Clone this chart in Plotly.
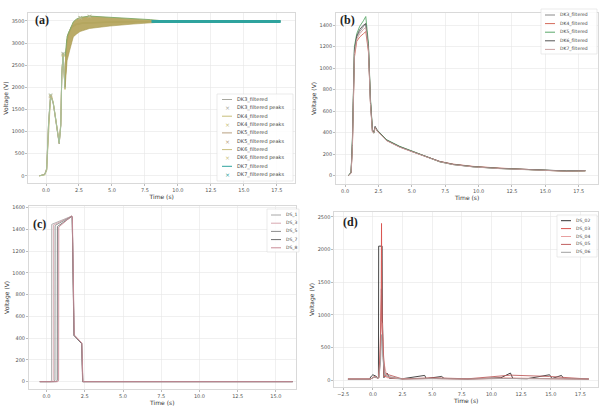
import plotly.graph_objects as go

# ---------------- (a) ----------------
t_a = [-0.5, -0.1, 0.05, 0.2, 0.35, 0.45, 0.55, 0.75, 1.0, 1.12, 1.2, 1.3, 1.44, 1.57, 1.7, 1.95, 2.3, 2.8, 3.5, 4.5, 6.0, 8.0, 10.0, 12.5, 15.0, 17.8]
dk3_a = [0, 30, 150, 1200, 1820, 1750, 1640, 1250, 730, 1150, 2300, 2770, 1980, 3000, 3200, 3370, 3420, 3450, 3460, 3470, 3480, 3490, 3490, 3490, 3490, 3490]
dk4_a = [0, 25, 130, 1150, 1790, 1760, 1650, 1270, 760, 1180, 2350, 2720, 1950, 2980, 3230, 3390, 3440, 3460, 3470, 3478, 3482, 3490, 3490, 3490, 3490, 3490]
dk5_a = [0, 35, 170, 1230, 1800, 1740, 1630, 1240, 720, 1120, 2280, 2750, 2000, 3020, 3180, 3350, 3410, 3445, 3455, 3468, 3478, 3489, 3490, 3490, 3490, 3490]
dk6_a = [0, 20, 120, 1180, 1810, 1770, 1660, 1260, 740, 1160, 2320, 2740, 1970, 2990, 3210, 3380, 3430, 3455, 3465, 3472, 3480, 3490, 3490, 3490, 3490, 3490]
dk7_a = [0, 28, 140, 1210, 1830, 1755, 1645, 1255, 735, 1140, 2310, 2760, 1990, 3010, 3220, 3375, 3425, 3452, 3462, 3471, 3480, 3490, 3490, 3490, 3490, 3490]
peaks_t_a = [0.35, 1.3, 2.6, 3.3]
dk3_pk = [1820, 2770, 3570, 3600]
dk4_pk = [1790, 2720, 3560, 3590]
dk5_pk = [1800, 2750, 3575, 3605]
dk6_pk = [1810, 2740, 3565, 3595]
dk7_pk = [1830, 2760, 3580, 3610]
band_t = [1.45, 1.6, 1.8, 2.07, 2.3, 2.58, 3.3, 4.0, 4.85, 6.6, 7.9, 8.6, 9.3]
band_hi = [2700, 3150, 3290, 3480, 3540, 3580, 3610, 3600, 3585, 3555, 3530, 3510, 3495]
band_lo = [2000, 2600, 2840, 3140, 3200, 3260, 3330, 3360, 3385, 3430, 3455, 3475, 3485]

# ---------------- (b) ----------------
t_b = [0.25, 0.45, 0.55, 0.62, 0.7, 0.875, 1.1, 1.37, 1.55, 1.75, 1.9, 2.05, 2.15, 2.25, 2.4, 3.1, 4.1, 5.1, 6.1, 7.1, 8.1, 9.6, 11.6, 14.1, 16.6, 18.0]
dk3_b = [0, 30, 300, 860, 1150, 1290, 1340, 1385, 1420, 1200, 700, 420, 400, 455, 420, 332, 270, 223, 177, 130, 105, 84, 68, 53, 43, 46]
dk4_b = [0, 25, 260, 820, 1100, 1250, 1290, 1320, 1340, 1150, 680, 410, 398, 452, 418, 328, 266, 220, 175, 132, 107, 86, 70, 55, 40, 44]
dk5_b = [0, 35, 350, 900, 1200, 1320, 1390, 1440, 1480, 1230, 720, 430, 395, 450, 425, 335, 272, 225, 175, 128, 103, 82, 66, 52, 42, 45]
dk6_b = [0, 28, 320, 880, 1170, 1300, 1360, 1400, 1410, 1190, 690, 415, 402, 458, 422, 330, 268, 221, 178, 131, 104, 83, 67, 54, 44, 47]
dk7_b = [0, 22, 280, 840, 1130, 1270, 1320, 1360, 1380, 1170, 670, 405, 396, 448, 416, 326, 264, 219, 174, 129, 102, 81, 65, 51, 41, 45]

# ---------------- (c) ----------------
t_c1 = [-0.44, 0.28, 0.33, 0.34, 1.64, 1.68, 1.79, 2.29, 2.36, 16.1]
v_c1 = [0, 0, 15, 1445, 1520, 1515, 428, 352, 0, 0]
t_c2 = [-0.44, 0.38, 0.44, 0.45, 1.64, 1.68, 1.79, 2.29, 2.36, 16.1]
v_c2 = [0, 0, 15, 1440, 1520, 1515, 428, 352, 0, 0]
t_c3 = [-0.44, 0.5, 0.55, 0.56, 1.64, 1.68, 1.8, 2.3, 2.37, 16.1]
v_c3 = [0, 0, 15, 1435, 1518, 1512, 425, 350, 0, 0]
t_c4 = [-0.44, 0.65, 0.70, 0.71, 1.64, 1.68, 1.8, 2.3, 2.37, 16.1]
v_c4 = [0, 0, 15, 1425, 1516, 1510, 424, 348, 0, 0]
t_c5 = [-0.44, 0.74, 0.79, 0.80, 1.65, 1.69, 1.81, 2.31, 2.38, 16.1]
v_c5 = [0, 0, 15, 1420, 1522, 1516, 430, 355, 0, 0]

# ---------------- (d) ----------------
t_d1 = [-2.1, -0.3, -0.1, 0.0, 0.3, 0.4, 0.47, 0.49, 0.78, 0.8, 0.93, 1.2, 1.4, 2.5, 4.37, 4.5, 5.8, 6.0, 8.0, 10.8, 11.6, 11.8, 13.0, 14.9, 15.1, 15.9, 16.1, 18.2]
v_d1 = [20, 20, 70, 86, 60, 30, 40, 2053, 2053, 1000, 40, 112, 30, 25, 76, 28, 60, 30, 22, 40, 112, 30, 25, 86, 28, 76, 28, 22]
t_d2 = [-2.1, -0.2, 0.1, 0.5, 0.62, 0.70, 0.73, 0.76, 0.85, 0.95, 1.3, 2.5, 5.0, 8.0, 11.0, 14.0, 18.2]
v_d2 = [18, 20, 50, 40, 300, 1200, 2400, 900, 600, 60, 50, 22, 30, 20, 35, 25, 20]
t_d3 = [-2.1, -0.2, 0.1, 0.5, 0.6, 0.68, 0.8, 0.9, 1.2, 2.5, 5.0, 8.0, 11.0, 14.0, 18.2]
v_d3 = [22, 22, 45, 35, 400, 900, 870, 300, 40, 24, 28, 22, 30, 28, 22]
t_d4 = [-2.1, -0.2, 0.1, 0.5, 0.62, 0.72, 0.82, 1.0, 1.25, 2.5, 5.0, 8.0, 11.6, 14.9, 18.2]
v_d4 = [20, 20, 55, 40, 500, 1400, 600, 120, 90, 22, 40, 24, 80, 60, 20]
t_d5 = [-2.1, -0.2, 0.1, 0.5, 0.64, 0.74, 0.84, 1.0, 1.3, 2.5, 5.0, 8.0, 11.0, 14.0, 18.2]
v_d5 = [19, 19, 48, 38, 250, 700, 350, 80, 60, 20, 26, 20, 28, 24, 20]

FONT = "DejaVu Sans"
W, H = 600, 406
fig = go.Figure()

# panel a
a_series = [("DK3", dk3_a, dk3_pk, "#a8a8a0"), ("DK4", dk4_a, dk4_pk, "#c7be7a"),
            ("DK5", dk5_a, dk5_pk, "#b8a080"), ("DK6", dk6_a, dk6_pk, "#cbbf80"),
            ("DK7", dk7_a, dk7_pk, "#9fc0a0")]
for name, vals, pk, col in a_series:
    fig.add_trace(go.Scatter(x=t_a, y=vals, mode="lines", name=f"{name}_filtered",
                             line=dict(color=col, width=0.9), xaxis="x", yaxis="y"))
fig.add_trace(go.Scatter(x=band_t, y=band_lo, mode="lines", line=dict(color="#a89850", width=0.6),
                         hoverinfo="skip", xaxis="x", yaxis="y"))
fig.add_trace(go.Scatter(x=band_t, y=band_hi, mode="lines", fill="tonexty", fillcolor="rgba(180,164,90,0.92)",
                         line=dict(color="#7fa868", width=0.9), hoverinfo="skip", xaxis="x", yaxis="y"))
# steady-state teal portion of DK7
st_t = [t for t in t_a if t >= 7.5]
st_v = [v for t, v in zip(t_a, dk7_a) if t >= 7.5]
fig.add_trace(go.Scatter(x=st_t, y=st_v, mode="lines", line=dict(color="#2fa39e", width=3),
                         hoverinfo="skip", xaxis="x", yaxis="y"))
for name, vals, pk, col in a_series:
    fig.add_trace(go.Scatter(x=peaks_t_a, y=pk, mode="markers", name=f"{name}_filtered peaks",
                             marker=dict(symbol="x-thin", size=3, color=col, line=dict(width=0.6, color=col)),
                             xaxis="x", yaxis="y"))

# panel b
b_series = [("DK3_filtered", dk3_b, "#8a8a8a"), ("DK4_filtered", dk4_b, "#d46a5a"),
            ("DK5_filtered", dk5_b, "#5aa86a"), ("DK6_filtered", dk6_b, "#555555"),
            ("DK7_filtered", dk7_b, "#c9a0a0")]
for name, vals, col in b_series:
    fig.add_trace(go.Scatter(x=t_b, y=vals, mode="lines", name=name, line=dict(color=col, width=0.9),
                             xaxis="x2", yaxis="y2"))

# panel c
c_series = [("DS_1", t_c1, v_c1, "#a8a8a8"), ("DS_3", t_c2, v_c2, "#d8a8b0"),
            ("DS_5", t_c3, v_c3, "#8c8c8c"), ("DS_7", t_c4, v_c4, "#6e6e6e"),
            ("DS_8", t_c5, v_c5, "#c98a96")]
for name, tt, vv, col in c_series:
    fig.add_trace(go.Scatter(x=tt, y=vv, mode="lines", name=name, line=dict(color=col, width=0.9),
                             xaxis="x3", yaxis="y3"))

# panel d
d_series = [("DS_02", t_d1, v_d1, "#333333"), ("DS_03", t_d2, v_d2, "#d9534f"),
            ("DS_04", t_d3, v_d3, "#e8a0a0"), ("DS_05", t_d4, v_d4, "#c06060"),
            ("DS_06", t_d5, v_d5, "#a0a0a0")]
for name, tt, vv, col in d_series:
    fig.add_trace(go.Scatter(x=tt, y=vv, mode="lines", name=name, line=dict(color=col, width=0.9),
                             xaxis="x4", yaxis="y4"))

def xax(dom, rng, ticks, anchor):
    return dict(domain=dom, range=rng, tickvals=ticks, tickformat=".1f", anchor=anchor, automargin=False,
                showgrid=True, gridcolor="#e6e6e6", gridwidth=0.6, zeroline=False,
                showline=True, linecolor="#cfcfcf", linewidth=0.8, mirror=True,
                ticks="outside", ticklen=2, tickcolor="#bbbbbb",
                tickfont=dict(size=5, color="#555", family=FONT),
                title=dict(text="Time (s)", font=dict(size=6, color="#333", family=FONT), standoff=0))

def yax(dom, rng, ticks, anchor):
    return dict(domain=dom, range=rng, tickvals=ticks, anchor=anchor, automargin=False,
                showgrid=True, gridcolor="#e6e6e6", gridwidth=0.6, zeroline=False,
                showline=True, linecolor="#cfcfcf", linewidth=0.8, mirror=True,
                ticks="outside", ticklen=2, tickcolor="#bbbbbb",
                tickfont=dict(size=5, color="#555", family=FONT),
                title=dict(text="Voltage (V)", font=dict(size=6, color="#333", family=FONT), standoff=2))

fig.update_layout(
    width=W, height=H, margin=dict(l=0, r=0, t=0, b=0, autoexpand=False),
    paper_bgcolor="white", plot_bgcolor="white", showlegend=False, hovermode=False,
    xaxis=xax([0.047, 0.492], [-1.35, 18.9], [0, 2.5, 5, 7.5, 10, 12.5, 15, 17.5], "y"),
    yaxis=yax([0.549, 0.968], [-165, 3680], [0, 500, 1000, 1500, 2000, 2500, 3000, 3500], "x"),
    xaxis2=xax([0.56, 0.997], [-0.68, 18.96], [0, 2.5, 5, 7.5, 10, 12.5, 15, 17.5], "y2"),
    yaxis2=yax([0.547, 0.968], [-77, 1513], [0, 200, 400, 600, 800, 1000, 1200, 1400], "x2"),
    xaxis3=xax([0.048, 0.493], [-1.16, 16.3], [0, 2.5, 5, 7.5, 10, 12.5, 15], "y3"),
    yaxis3=yax([0.042, 0.493], [-67, 1615], [0, 200, 400, 600, 800, 1000, 1200, 1400, 1600], "x3"),
    xaxis4=xax([0.557, 0.997], [-3.26, 19.0], [-2.5, 0, 2.5, 5, 7.5, 10, 12.5, 15, 17.5], "y4"),
    yaxis4=yax([0.047, 0.478], [-100, 2576], [0, 500, 1000, 1500, 2000, 2500], "x4"),
)

# ---- compact hand-drawn legends (pixel layout -> paper coords) ----
def px(x):
    return x / W

def py(y):
    return 1 - y / H

def add_legend(items, x0, y0, step, box, fsize=5, gap=13):
    bx0, by0, bx1, by1 = box
    fig.add_shape(type="rect", xref="paper", yref="paper", x0=px(bx0), x1=px(bx1), y0=py(by1), y1=py(by0),
                  line=dict(color="#dddddd", width=0.6), fillcolor="rgba(255,255,255,0.85)", layer="above")
    for i, (label, col, kind) in enumerate(items):
        y = y0 + i * step
        if kind == "line":
            fig.add_shape(type="line", xref="paper", yref="paper", x0=px(x0), x1=px(x0 + 10),
                          y0=py(y), y1=py(y), line=dict(color=col, width=1), layer="above")
        else:
            fig.add_annotation(text="×", x=px(x0 + 5), y=py(y), xref="paper", yref="paper",
                               showarrow=False, xanchor="center", yanchor="middle",
                               font=dict(size=6, color=col, family=FONT))
        fig.add_annotation(text=label, x=px(x0 + gap), y=py(y), xref="paper", yref="paper",
                           showarrow=False, xanchor="left", yanchor="middle",
                           font=dict(size=fsize, color="#444", family=FONT))

leg_a = []
for name, vals, pk, col in a_series:
    leg_a.append((f"{name}_filtered", col, "line"))
    leg_a.append((f"{name}_filtered peaks", col, "marker"))
leg_a[-2] = ("DK7_filtered", "#2fa39e", "line")
leg_a[-1] = ("DK7_filtered peaks", "#2fa39e", "marker")
add_legend(leg_a, 222, 99.5, 8.35, (217, 94, 293, 181))
add_legend([(n, c, "line") for n, _, c in b_series], 545, 15, 8.6, (541, 9, 597, 54), fsize=4.5)
add_legend([(n, c, "line") for n, _, _, c in c_series], 271, 215, 8.2, (267, 209, 299, 252), fsize=4.5)
add_legend([(n, c, "line") for n, _, _, c in d_series], 561, 220.7, 7.9, (557, 215, 597, 257), fsize=4.5)

for txt, x, y in [("(a)", 33, 20), ("(b)", 338, 20), ("(c)", 31, 224), ("(d)", 341, 222)]:
    fig.add_annotation(text=f"<b>{txt}</b>", x=px(x), y=py(y), xref="paper", yref="paper",
                       xanchor="left", yanchor="middle", showarrow=False,
                       font=dict(size=12, color="#222", family="Liberation Serif"))

fig.write_html("out.html", config={"displayModeBar": False, "staticPlot": True},
               post_script="document.body.style.margin='0';document.body.style.overflow='hidden';")
